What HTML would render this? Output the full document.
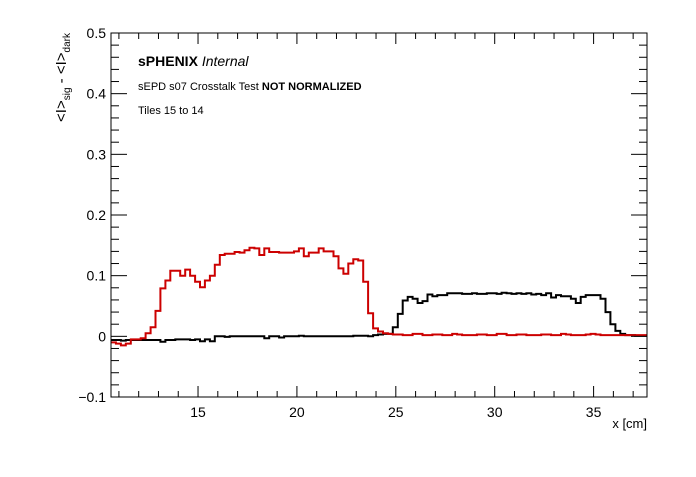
<!DOCTYPE html>
<html><head><meta charset="utf-8"><style>
body{margin:0;background:#fff}
svg text{font-family:"Liberation Sans",sans-serif}
</style></head><body>
<svg id="c" width="696" height="472" xmlns="http://www.w3.org/2000/svg">
<rect width="696" height="472" fill="#fff"/>
<g id="marks"></g>
<rect x="111" y="33" width="536" height="364" fill="none" stroke="#000" stroke-width="1"/>
<g id="ticks"></g>
<text x="138" y="66" font-size="14" font-weight="bold">sPHENIX <tspan font-weight="normal" font-style="italic">Internal</tspan></text>
<text x="138" y="90" font-size="11">sEPD s07 Crosstalk Test <tspan font-weight="bold">NOT NORMALIZED</tspan></text>
<text x="138" y="114" font-size="11">Tiles 15 to 14</text>
<text x="647" y="428" font-size="13" text-anchor="end">x [cm]</text>
<text transform="translate(66,33) rotate(-90)" font-size="15" text-anchor="end">&lt;I&gt;<tspan font-size="10" dy="4">sig</tspan><tspan dy="-4"> - &lt;I&gt;</tspan><tspan font-size="10" dy="4">dark</tspan></text>
</svg>
<script>
const binStart = 10.6;
const binWidth = 0.25;
const redValues = [-0.01,-0.012,-0.015,-0.012,-0.005,-0.005,-0.003,0.005,0.015,0.042,0.079,0.092,0.108,0.108,0.1,0.11,0.1,0.09,0.081,0.092,0.1,0.118,0.134,0.136,0.136,0.139,0.138,0.142,0.146,0.145,0.134,0.145,0.139,0.139,0.138,0.138,0.138,0.14,0.145,0.132,0.138,0.138,0.145,0.14,0.14,0.132,0.112,0.103,0.12,0.127,0.125,0.09,0.038,0.013,0.008,0.005,0.004,
0.003,0.003,0.002,0.002,0.004,0.004,0.002,0.002,0.003,0.003,0.002,0.002,0.004,0.003,0.002,0.002,0.002,0.003,0.003,0.002,0.002,0.004,0.004,0.002,0.002,0.003,0.003,0.002,0.002,0.002,0.003,0.003,0.002,0.002,0.004,0.003,0.002,0.002,0.002,0.003,0.004,0.003,0.002,0.002,0.002,0.002,0.002,0.002,0.002,0.002,0.002,0.002];
const blackValues = [-0.006,-0.006,-0.007,-0.006,-0.006,-0.006,-0.006,-0.006,-0.006,-0.006,-0.009,-0.006,-0.006,-0.005,-0.005,-0.005,-0.006,-0.005,-0.008,-0.005,-0.008,0.0,0.0,-0.001,0.0,0.0,0.0,0.0,0.0,0.0,0.0,-0.003,0.0,0.0,-0.002,0.0,0.0,0.0,0.001,0.0,0.0,0.0,0.0,0.0,0.0,0.0,0.0,0.0,0.0,0.001,0.001,0.001,
0.0,0.002,0.003,0.004,0.004,0.015,0.037,0.059,0.065,0.062,0.055,0.058,0.069,0.066,0.068,0.068,0.071,0.071,0.071,0.07,0.07,0.071,0.07,0.07,0.071,0.071,0.07,0.072,0.071,0.07,0.071,0.07,0.071,0.069,0.07,0.068,0.071,0.064,0.068,0.066,0.066,0.062,0.055,0.065,0.068,0.068,0.068,0.062,0.04,0.02,0.009,0.004,0.002,0.002,0.001,0.001,0.001,0.001,0.001];
const xTicks = [15,20,25,30,35];
const yTicks = [-0.1,0,0.1,0.2,0.3,0.4,0.5];
const yTickLabels = ["\u22120.1","0","0.1","0.2","0.3","0.4","0.5"];

const X0=111,X1=647,Y0=33,Y1=397,xMin=10.6,xMax=37.7,yMin=-0.1,yMax=0.5;
const sx=v=>X0+(v-xMin)/(xMax-xMin)*(X1-X0);
const sy=v=>Y1-(v-yMin)/(yMax-yMin)*(Y1-Y0);
const NS="http://www.w3.org/2000/svg";
const marks=document.getElementById('marks');
function hist(vals,color,name){
  let d="";
  vals.forEach((v,i)=>{
    const a=Math.max(X0,sx(binStart+i*binWidth)), b=Math.min(X1,sx(binStart+(i+1)*binWidth));
    if(a>=X1)return;
    d+=(i===0?"M":"L")+a.toFixed(1)+","+sy(v).toFixed(1)+"L"+b.toFixed(1)+","+sy(v).toFixed(1);
  });
  const p=document.createElementNS(NS,'path');
  p.setAttribute('d',d);p.setAttribute('fill','none');p.setAttribute('stroke',color);p.setAttribute('stroke-width','2');
  
  
  marks.appendChild(p);
}
hist(blackValues,'#000','black-series');
hist(redValues,'#cc0000','red-series');

const tg=document.getElementById('ticks');
function line(x1,y1,x2,y2){const l=document.createElementNS(NS,'line');l.setAttribute('x1',x1);l.setAttribute('y1',y1);l.setAttribute('x2',x2);l.setAttribute('y2',y2);l.setAttribute('stroke','#000');


tg.appendChild(l);}
function text(x,y,s,anchor,name){const t=document.createElementNS(NS,'text');t.setAttribute('x',x);t.setAttribute('y',y);t.setAttribute('font-size','14');t.setAttribute('text-anchor',anchor);t.textContent=s;


tg.appendChild(t);}
for(let v=11;v<=37;v++){const x=sx(v);const major=xTicks.includes(v);const L=major?11:6;line(x,Y1,x,Y1-L);line(x,Y0,x,Y0+L);}
xTicks.forEach(v=>text(sx(v),Y1+20,String(v),'middle','x-tick-label'));
for(let k=-5;k<=25;k++){const v=k*0.02;const y=sy(v);const major=k%5===0;const L=major?16:8;line(X0,y,X0+L,y);line(X1,y,X1-L,y);}
yTicks.forEach((v,i)=>text(X0-5,sy(v)+5,yTickLabels[i],'end','y-tick-label'));
</script>
</body></html>
